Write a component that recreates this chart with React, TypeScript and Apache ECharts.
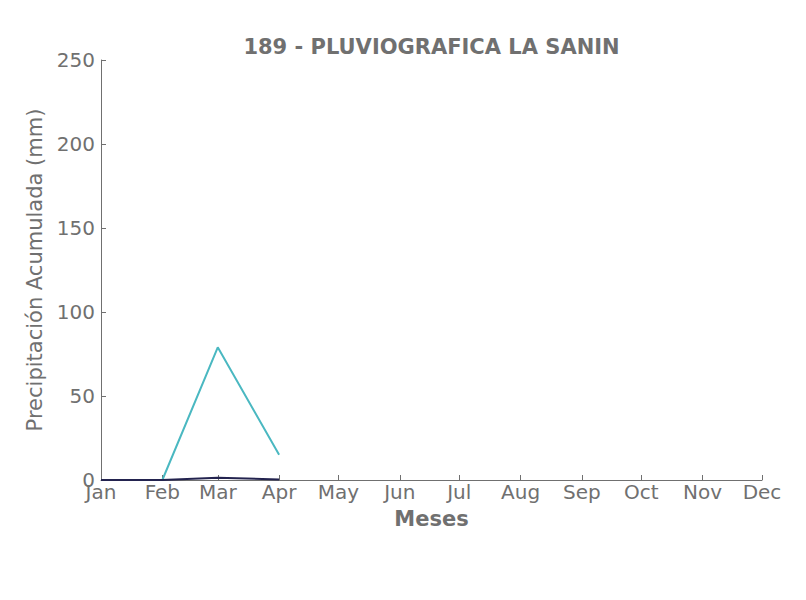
import React, { useEffect, useRef } from "react";
import * as echarts from "echarts";

const chartTitle = "189 - PLUVIOGRAFICA LA SANIN";
const monthLabels = ["Jan", "Feb", "Mar", "Apr", "May", "Jun", "Jul", "Aug", "Sep", "Oct", "Nov", "Dec"];
const monthStartDays = [0, 31, 59, 90, 120, 151, 181, 212, 243, 273, 304, 334];
const yTicks = [0, 50, 100, 150, 200, 250];
const tealValues: (number | null)[] = [null, 0, 79, 15];
const navyValues: (number | null)[] = [0, 0, 1.4, 0.3];

const TEXT = "#707070";

function toPoints(vals: (number | null)[]) {
  return vals
    .map((v, i) => (v === null ? null : [monthStartDays[i], v]))
    .filter((p) => p !== null);
}

export default function App() {
  const ref = useRef<HTMLDivElement>(null);
  useEffect(() => {
    document.body.style.margin = "0";
    const chart = echarts.init(ref.current!, null, { renderer: "svg" });
    const font = "'DejaVu Sans', sans-serif";
    chart.setOption({
      animation: false,
      backgroundColor: "#ffffff",
      textStyle: { fontFamily: font },
      title: {
        text: chartTitle,
        left: 426.5,
        textAlign: "center",
        top: 31,
        textStyle: { fontFamily: font, fontSize: 21, fontWeight: "bold", color: TEXT },
      },
      grid: { left: 101, right: 44, top: 60, bottom: 120, containLabel: false, outerBoundsMode: "none" },
      xAxis: {
        type: "value",
        min: monthStartDays[0],
        max: monthStartDays[monthStartDays.length - 1],
        name: "Meses",
        nameLocation: "middle",
        nameGap: 28,
        nameTextStyle: { fontFamily: font, fontSize: 21, fontWeight: "bold", color: TEXT },
        splitLine: { show: false },
        axisLine: { show: true, lineStyle: { color: TEXT, width: 1 } },
        axisTick: { show: true, inside: true, length: 5, lineStyle: { color: TEXT }, customValues: monthStartDays },
        axisLabel: {
          customValues: monthStartDays,
          margin: 2,
          fontFamily: font,
          fontSize: 20,
          color: TEXT,
          formatter: (v: number) => {
            const i = monthStartDays.indexOf(Math.round(v));
            return i >= 0 ? monthLabels[i] : "";
          },
        },
      },
      yAxis: {
        type: "value",
        min: yTicks[0],
        max: yTicks[yTicks.length - 1],
        interval: 50,
        name: "Precipitación Acumulada (mm)",
        nameLocation: "middle",
        nameGap: 54,
        nameTextStyle: { fontFamily: font, fontSize: 21, color: TEXT },
        splitLine: { show: false },
        axisLine: { show: true, lineStyle: { color: TEXT, width: 1 } },
        axisTick: { show: true, inside: true, length: 5, lineStyle: { color: TEXT } },
        axisLabel: { margin: 6, fontFamily: font, fontSize: 20, color: TEXT },
      },
      series: [
        {
          type: "line",
          data: toPoints(tealValues),
          showSymbol: false,
          symbol: "none",
          lineStyle: { color: "#4ab8c1", width: 2 },
          itemStyle: { color: "#4ab8c1" },
          z: 2,
        },
        {
          type: "line",
          data: toPoints(navyValues),
          showSymbol: false,
          symbol: "none",
          lineStyle: { color: "#23234f", width: 2 },
          itemStyle: { color: "#23234f" },
          z: 3,
        },
      ],
    });
    return () => chart.dispose();
  }, []);
  return <div ref={ref} style={{ width: 806, height: 600 }} />;
}
